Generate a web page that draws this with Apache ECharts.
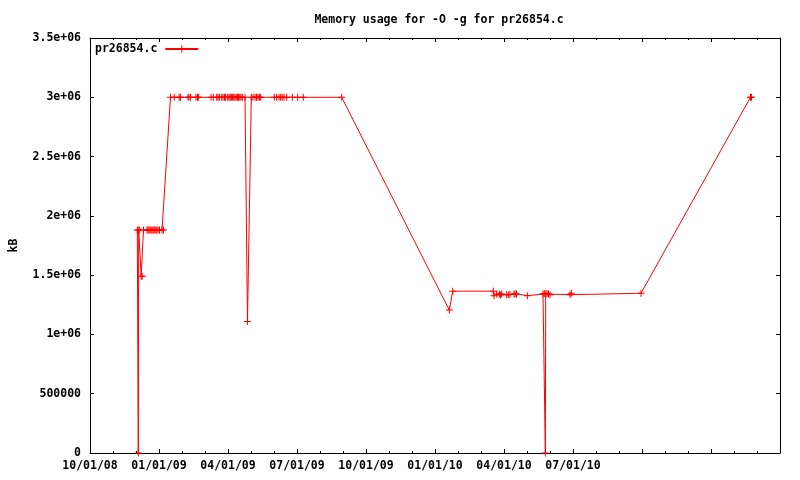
<!DOCTYPE html>
<html><head><meta charset="utf-8">
<script src="https://cdn.jsdelivr.net/npm/echarts@6/dist/echarts.min.js"></script>
<style>html,body{margin:0;padding:0;background:#fff}#c{width:800px;height:480px}</style>
</head><body><div id="c"></div>
<script>
// ---- data ----
const seriesName = 'pr26854.c';
const chartTitle = 'Memory usage for -O -g for pr26854.c';
const yName = 'kB';
const xTickLabels = ['10/01/08','01/01/09','04/01/09','07/01/09','10/01/09','01/01/10','04/01/10','07/01/10','','',''];
const yTickValues = [0,500000,1000000,1500000,2000000,2500000,3000000,3500000];

// Dec 2008 / early Jan 2009 cluster
const earlyTimes = ['2008-12-02 18:00','2008-12-04 02:00','2008-12-04 15:00','2008-12-06 00:00','2008-12-08 00:00','2008-12-09 09:00',
  '2008-12-11 02:00','2008-12-15 19:00','2008-12-17 05:00','2008-12-18 12:00','2008-12-19 21:00','2008-12-21 05:00',
  '2008-12-22 14:00','2008-12-23 22:00','2008-12-25 07:00','2008-12-26 14:00','2008-12-28 00:00','2008-12-29 07:00',
  '2008-12-30 17:00','2009-01-01 16:00','2009-01-05 01:00','2009-01-07 02:00'];
const earlyKB = [1880000,0,1880000,1880000,1490000,1490000,
  1880000,1880000,1880000,1880000,1880000,1880000,
  1880000,1880000,1880000,1880000,1880000,1880000,
  1880000,1880000,1880000,1880000];

// 2009 plateau at 3e6 (with the April dip)
const plateauTimes = ['2009-01-16 12:00','2009-01-21 14:00','2009-01-28 05:00','2009-01-30 02:00',
  '2009-02-08 07:00','2009-02-09 12:00','2009-02-11 08:00','2009-02-18 00:00','2009-02-19 21:00','2009-02-21 07:00',
  '2009-03-09 02:00','2009-03-12 05:00','2009-03-16 19:00','2009-03-18 12:00','2009-03-20 12:00',
  '2009-03-23 12:00','2009-03-25 07:00','2009-03-27 07:00','2009-03-28 22:00','2009-03-31 14:00',
  '2009-04-02 07:00','2009-04-03 21:00','2009-04-05 10:00','2009-04-07 00:00','2009-04-08 13:00',
  '2009-04-10 03:00','2009-04-11 17:00','2009-04-13 07:00','2009-04-14 19:00','2009-04-16 10:00',
  '2009-04-17 23:00','2009-04-19 16:00','2009-04-23 05:00',
  '2009-04-26 10:00',
  '2009-05-01 10:00','2009-05-03 17:00','2009-05-06 10:00','2009-05-08 10:00','2009-05-10 10:00',
  '2009-05-12 12:00','2009-05-14 02:00',
  '2009-06-01 10:00','2009-06-04 12:00','2009-06-07 12:00','2009-06-09 17:00','2009-06-11 19:00',
  '2009-06-14 00:00','2009-06-17 14:00','2009-06-24 22:00',
  '2009-07-01 22:00','2009-07-09 12:00','2009-08-30 06:00'];
const plateauKB = [3000000,3000000,3000000,3000000,
  3000000,3000000,3000000,3000000,3000000,3000000,
  3000000,3000000,3000000,3000000,3000000,
  3000000,3000000,3000000,3000000,3000000,
  3000000,3000000,3000000,3000000,3000000,
  3000000,3000000,3000000,3000000,3000000,
  3000000,3000000,3000000,
  1110000,
  3000000,3000000,3000000,3000000,3000000,
  3000000,3000000,
  3000000,3000000,3000000,3000000,3000000,
  3000000,3000000,3000000,
  3000000,3000000,3000000];

// 2010-2011
const lateTimes = ['2010-01-20 07:00','2010-01-24 22:00','2010-03-17 14:00','2010-03-18 12:00','2010-03-22 05:00',
  '2010-03-25 17:00','2010-03-27 07:00','2010-03-28 22:00','2010-04-04 12:00','2010-04-06 14:00',
  '2010-04-08 19:00','2010-04-14 00:00','2010-04-15 14:00','2010-04-17 07:00','2010-05-01 10:00',
  '2010-05-22 14:00','2010-05-24 07:00','2010-05-25 17:00','2010-05-26 05:00','2010-05-28 00:00',
  '2010-05-30 00:00','2010-06-01 00:00','2010-06-27 02:00','2010-06-28 19:00','2010-09-29 17:00',
  '2011-02-21 02:00','2011-02-22 07:00'];
const lateKB = [1205000,1365000,1365000,1327000,1340000,
  1340000,1332000,1340000,1335000,1335000,
  1337000,1342000,1342000,1342000,1327000,
  1340000,1345000,0,1340000,1345000,
  1340000,1335000,1335000,1347000,1347000,
  3000000,3000000];

// ---- helpers ----
// x axis unit: months since 2008-10-01
function toMonths(s){
  const parts = s.split(' ');
  const [Y,M,D] = parts[0].split('-').map(Number);
  const [h,mi] = (parts[1]||'0:0').split(':').map(Number);
  const dim = new Date(Date.UTC(Y, M, 0)).getUTCDate();
  return (Y-2008)*12 + (M-10) + (D-1 + (h+mi/60)/24)/dim;
}
const allTimes = earlyTimes.concat(plateauTimes, lateTimes);
const allKB = earlyKB.concat(plateauKB, lateKB);
const seriesData = allTimes.map((t,i)=>[toMonths(t), allKB[i]]);

const FONT = 'DejaVu Sans Mono';
const txt = {fontFamily: FONT, fontWeight: 'bold', fontSize: 11.5, color: '#000'};
const PLUS = 'path://M3,0h1v3h3v1h-3v3h-1v-3h-3v-1h3z';

function xFmt(v){
  const i = Math.round(v/3);
  return xTickLabels[i] || '';
}
function yFmt(v){
  if (v === 0) return '0';
  if (v < 1000000) return String(v);
  return (v/1000000) + 'e+06';
}
const baseX = {
  type: 'value', min: 0, max: 30, interval: 3,
  axisLine: {onZero: false, lineStyle: {color: '#000', width: 1}},
  axisTick: {inside: true, length: 4, lineStyle: {color: '#000'}},
  minorTick: {show: true, splitNumber: 3, length: 2, lineStyle: {color: '#000'}},
  splitLine: {show: false}, minorSplitLine: {show: false}
};
const baseY = {
  type: 'value', min: 0, max: 3500000, interval: 500000,
  axisLine: {show: true, onZero: false, lineStyle: {color: '#000', width: 1}},
  axisTick: {show: true, inside: true, length: 4, lineStyle: {color: '#000'}},
  splitLine: {show: false}
};

const chart = echarts.init(document.getElementById('c'), null, {renderer: 'canvas'});
chart.setOption({
  animation: false,
  backgroundColor: '#fff',
  title: {text: chartTitle, left: 434, top: 9, textAlign: 'center', textStyle: Object.assign({}, txt)},
  legend: {
    data: [seriesName], left: 95, top: 43, align: 'right', padding: 0,
    itemWidth: 33, itemHeight: 9,
    textStyle: Object.assign({padding: [0, 3, 0, 0]}, txt)
  },
  grid: {left: 90, right: 20, top: 38, bottom: 27, containLabel: false},
  xAxis: [
    Object.assign({}, baseX, {position: 'bottom', axisLabel: Object.assign({formatter: xFmt, margin: 7, showMinLabel: true, showMaxLabel: true}, txt)}),
    Object.assign({}, baseX, {position: 'top', axisLabel: {show: false}})
  ],
  yAxis: [
    Object.assign({}, baseY, {position: 'left', name: yName, nameLocation: 'middle', nameGap: 70, nameRotate: 90,
      nameTextStyle: Object.assign({}, txt),
      axisLabel: Object.assign({formatter: yFmt, margin: 9}, txt)}),
    Object.assign({}, baseY, {position: 'right', axisLabel: {show: false}})
  ],
  series: [{
    name: seriesName, type: 'line', xAxisIndex: 0, yAxisIndex: 0,
    data: seriesData,
    symbol: PLUS, symbolSize: 7, showAllSymbol: true,
    itemStyle: {color: '#ff0000'},
    lineStyle: {color: '#ff0000', width: 1},
    emphasis: {disabled: true}
  }]
});
</script>
</body></html>
